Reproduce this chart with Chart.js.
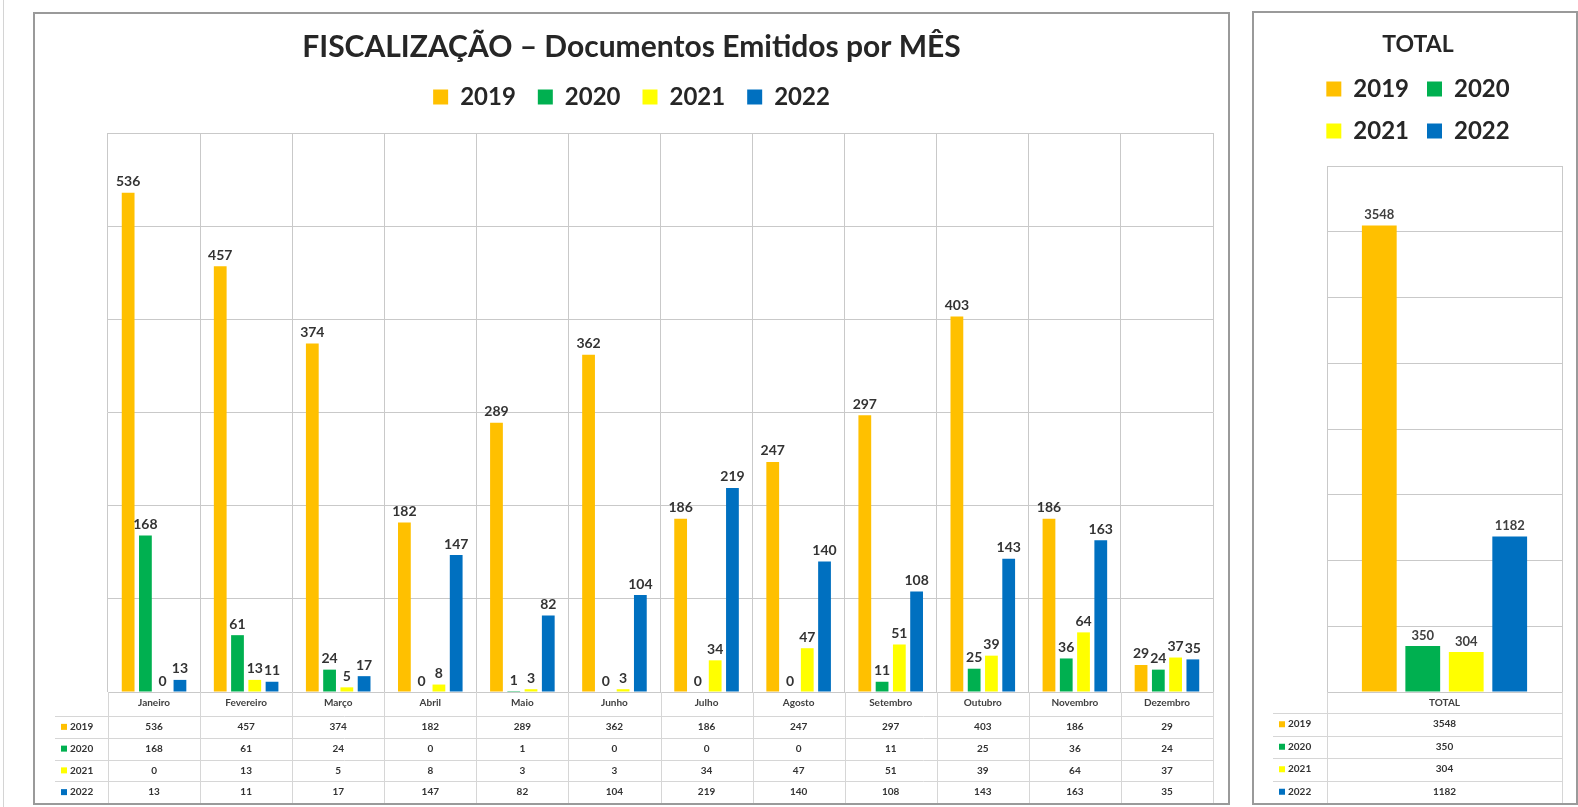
<!DOCTYPE html>
<html>
<head>
<meta charset="utf-8">
<script src="https://cdn.jsdelivr.net/npm/chart.js@4/dist/chart.umd.min.js"></script>
<style>
  html, body { margin: 0; padding: 0; background: #fff; }
  body { width: 1578px; height: 807px; position: relative; overflow: hidden; }
  .panel { position: absolute; box-sizing: border-box; border: 2px solid #9a9a9a; background: #fff; }
  .edge { position: absolute; left: 3px; top: 0; width: 1px; height: 807px; background: #d4d4d4; }
</style>
</head>
<body>
<div class="edge"></div>
<div class="panel" style="left:33px;top:12px;width:1197px;height:793px;"><canvas id="monthChart"></canvas></div>
<div class="panel" style="left:1252px;top:11px;width:326px;height:794px;"><canvas id="totalChart"></canvas></div>
<script>
(function () {
  'use strict';

  // --- data ---
  var months = ['Janeiro', 'Fevereiro', 'Março', 'Abril', 'Maio', 'Junho', 'Julho',
    'Agosto', 'Setembro', 'Outubro', 'Novembro', 'Dezembro'];
  var years = ['2019', '2020', '2021', '2022'];
  var docs2019 = [536, 457, 374, 182, 289, 362, 186, 247, 297, 403, 186, 29];
  var docs2020 = [168, 61, 24, 0, 1, 0, 0, 0, 11, 25, 36, 24];
  var docs2021 = [0, 13, 5, 8, 3, 3, 34, 47, 51, 39, 64, 37];
  var docs2022 = [13, 11, 17, 147, 82, 104, 219, 140, 108, 143, 163, 35];
  var totalLabels = ['TOTAL'];
  var totals = [3548, 350, 304, 1182];
  var monthAxis = { min: 0, max: 600, step: 100 };
  var totalAxis = { min: 0, max: 4000, step: 500 };

  var yearColors = ['#FFC000', '#00B050', '#FFFF00', '#0070C0'];
  var gridColor = '#c9c9c9';
  var textColor = '#262626';

  Chart.defaults.font.family = 'Lato, "Open Sans", sans-serif';
  Chart.defaults.color = textColor;

  // values written above each bar
  var barLabels = {
    id: 'barLabels',
    afterDatasetsDraw: function (chart, args, opts) {
      var ctx = chart.ctx;
      ctx.save();
      ctx.font = opts.font;
      ctx.fillStyle = opts.color;
      ctx.textAlign = 'center';
      ctx.textBaseline = 'bottom';
      chart.data.datasets.forEach(function (ds, i) {
        chart.getDatasetMeta(i).data.forEach(function (bar, j) {
          ctx.fillText(String(ds.data[j]), bar.x, bar.y - opts.offset);
        });
      });
      ctx.restore();
    }
  };

  // extra room between legend and plot
  var legendGap = {
    id: 'legendGap',
    beforeInit: function (chart, args, opts) {
      var legend = chart.legend;
      if (!legend) return;
      var fit = legend.fit;
      legend.fit = function () {
        fit.call(legend);
        this.height += opts.gap;
      };
    }
  };

  // excel-like data table under the axis
  var dataTable = {
    id: 'dataTable',
    afterDraw: function (chart, args, opts) {
      var ctx = chart.ctx;
      var xs = chart.scales.x;
      var area = chart.chartArea;
      var n = chart.data.labels.length;
      var colW = (xs.right - xs.left) / n;
      var rowsTop = area.bottom + opts.headerHeight;
      var sets = chart.data.datasets;
      var rowH = (chart.height - rowsTop) / sets.length;

      ctx.save();
      ctx.strokeStyle = opts.lineColor;
      ctx.lineWidth = 1;
      ctx.beginPath();
      for (var r = 0; r < sets.length; r++) {
        var y = Math.round(rowsTop + r * rowH) + 0.5;
        ctx.moveTo(opts.left, y);
        ctx.lineTo(xs.right, y);
      }
      for (var i = 0; i <= n; i++) {
        var x = Math.round(xs.left + i * colW) + 0.5;
        ctx.moveTo(x, area.bottom);
        ctx.lineTo(x, chart.height);
      }
      ctx.stroke();

      ctx.font = opts.font;
      ctx.fillStyle = opts.color;
      ctx.textBaseline = 'middle';
      sets.forEach(function (ds, r) {
        var cy = rowsTop + r * rowH + rowH / 2;
        ctx.fillStyle = ds.backgroundColor;
        ctx.fillRect(opts.left + 6, cy - 3, 6, 6);
        ctx.fillStyle = opts.color;
        ctx.textAlign = 'left';
        ctx.fillText(ds.label, opts.left + 15, cy);
        ctx.textAlign = 'center';
        ds.data.forEach(function (v, j) {
          ctx.fillText(String(v), xs.left + (j + 0.5) * colW, cy);
        });
      });
      ctx.restore();
    }
  };

  function legendOptions(padding) {
    return {
      position: 'top',
      labels: {
        boxWidth: 15,
        boxHeight: 15,
        padding: padding,
        color: textColor,
        font: { size: 24, weight: 'bold' }
      }
    };
  }

  function makeScales(axis, yWidth) {
    return {
      x: {
        grid: { color: gridColor, drawTicks: false, offset: true },
        border: { color: gridColor },
        ticks: { color: '#404040', padding: 5, font: { size: 10, weight: 'bold' } },
        afterFit: function (s) { s.height = 111; }
      },
      y: {
        min: axis.min,
        max: axis.max,
        grid: { color: gridColor, drawTicks: false },
        border: { display: false },
        ticks: { display: false, stepSize: axis.step },
        afterFit: function (s) { s.width = yWidth; }
      }
    };
  }

  var monthSeries = [docs2019, docs2020, docs2021, docs2022];

  new Chart(document.getElementById('monthChart'), {
    type: 'bar',
    data: {
      labels: months,
      datasets: monthSeries.map(function (vals, i) {
        return {
          label: years[i],
          data: vals,
          backgroundColor: yearColors[i],
          categoryPercentage: 0.75,
          barPercentage: 0.74
        };
      })
    },
    options: {
      responsive: true,
      maintainAspectRatio: false,
      animation: false,
      layout: { padding: { left: 15, right: 15, top: 0, bottom: 0 } },
      scales: makeScales(monthAxis, 58),
      plugins: {
        title: {
          display: true,
          text: 'FISCALIZAÇÃO – Documentos Emitidos por MÊS',
          color: textColor,
          font: { size: 30, weight: 'bold', lineHeight: 1 },
          padding: { top: 18, bottom: 1 }
        },
        legend: legendOptions(22),
        tooltip: { enabled: false },
        legendGap: { gap: 14 },
        barLabels: { font: 'bold 14px Lato', color: '#333333', offset: 4 },
        dataTable: { left: 20, headerHeight: 24, lineColor: '#d6d6d6', color: '#333333', font: 'bold 10px Lato' }
      }
    },
    plugins: [legendGap, barLabels, dataTable]
  });

  new Chart(document.getElementById('totalChart'), {
    type: 'bar',
    data: {
      labels: totalLabels,
      datasets: totals.map(function (v, i) {
        return {
          label: years[i],
          data: [v],
          backgroundColor: yearColors[i],
          categoryPercentage: 0.74,
          barPercentage: 0.8
        };
      })
    },
    options: {
      responsive: true,
      maintainAspectRatio: false,
      animation: false,
      layout: { padding: { left: 20, right: 14, top: 0, bottom: 0 } },
      scales: makeScales(totalAxis, 53),
      plugins: {
        title: {
          display: true,
          text: 'TOTAL',
          color: textColor,
          font: { size: 23, weight: 'bold', lineHeight: 1 },
          padding: { top: 20, bottom: 3 }
        },
        legend: legendOptions(18),
        tooltip: { enabled: false },
        legendGap: { gap: 13 },
        barLabels: { font: 'bold 13px Lato', color: '#404040', offset: 4 },
        dataTable: { left: 19, headerHeight: 21, lineColor: '#d6d6d6', color: '#333333', font: 'bold 10px Lato' }
      }
    },
    plugins: [legendGap, barLabels, dataTable]
  });
})();
</script>
</body>
</html>
